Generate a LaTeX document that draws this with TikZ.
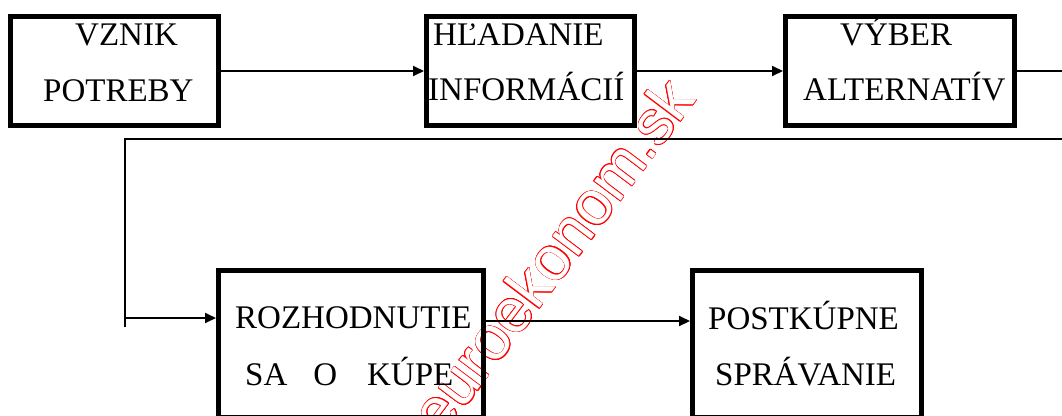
\documentclass[tikz,border=0pt]{standalone}
\usepackage{fontspec}
\setmainfont{Liberation Serif}
\newfontfamily\wmfont{Liberation Sans}
\usepackage{contour}
\contourlength{0.6pt}
\contournumber{16}
\usetikzlibrary{arrows.meta}
\begin{document}
\begin{tikzpicture}[x=1pt,y=-1pt,
  box/.style={draw,line width=5pt,inner sep=0pt,minimum width=#1},
  lbl/.style={anchor=base west,inner sep=0pt,font=\fontsize{33}{38}\selectfont},
  conn/.style={line width=2pt},
  arr/.style={conn,-{Triangle[length=11pt,width=10pt]}},
  wm/.style={rotate=53,inner sep=0pt,font=\wmfont\fontsize{62}{64}\selectfont}]
\useasboundingbox (0,0) rectangle (1062,415);
% watermark (below everything)
\node[wm] (wmark) at (552,256) {\contour{red}{\textcolor{white}{euroekonom.sk}}};
% boxes
\node[box=208pt,minimum height=109pt] (b1) at (114.5,71) {};
\node[box=208pt,minimum height=109pt] (b2) at (530.5,71) {};
\node[box=229pt,minimum height=109pt] (b3) at (900,71) {};
\node[box=265pt,minimum height=147pt] (b4) at (351,344) {};
\node[box=229pt,minimum height=147pt] (b5) at (807,344) {};
% texts
\node[lbl] (t1a) at (75,45) {VZNIK};
\node[lbl] (t1b) at (43,101) {POTREBY};
\node[lbl] (t2a) at (433,45) {HĽADANIE};
\node[lbl] (t2b) at (428,100) {INFORMÁCIÍ};
\node[lbl] (t3a) at (840,45) {VÝBER};
\node[lbl] (t3b) at (803,100) {ALTERNATÍV};
\node[lbl] (t4a) at (235,328) {ROZHODNUTIE};
\node[lbl] (t4b) at (245,385) {SA\hspace{26pt}O\hspace{30pt}KÚPE};
\node[lbl] (t5a) at (708,329) {POSTKÚPNE};
\node[lbl] (t5b) at (715,385) {SPRÁVANIE};
% connectors
\draw[arr] (b1.east) -- (b2.west);
\draw[arr] (b2.east) -- (b3.west);
\coordinate (turn) at (125,138.5);
\coordinate (j) at (125,318);
\coordinate (k) at (0,321);
\draw[conn] (b3.east) -- ++(70,0) |- (turn) -- ++(0,188);
\draw[arr] (j) -- (j -| b4.west);
\draw[arr] (b4.east |- k) -- (b5.west |- k);
\end{tikzpicture}
\end{document}
